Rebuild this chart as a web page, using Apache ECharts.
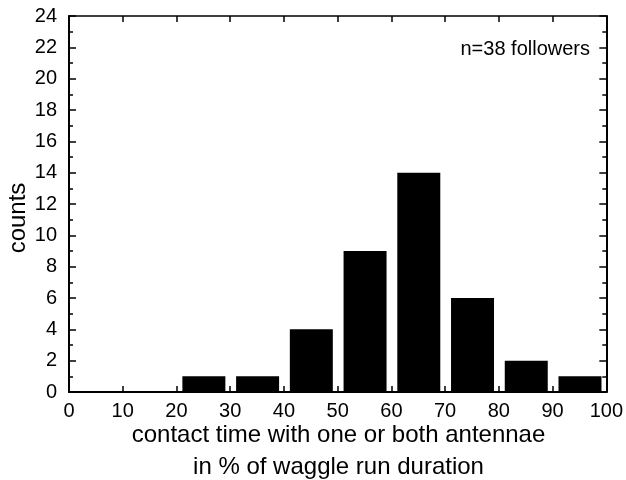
<!DOCTYPE html>
<html>
<head>
<meta charset="utf-8">
<script src="https://cdn.jsdelivr.net/npm/echarts@6/dist/echarts.min.js"></script>
<style>
  html, body { margin: 0; padding: 0; background: #fff; }
  #chart { width: 626px; height: 480px; }
</style>
</head>
<body>
<div id="chart"></div>
<script>
// Histogram bins (percent of waggle run duration) and follower counts
const binStarts = [20, 30, 40, 50, 60, 70, 80, 90];
const binWidth = 10;
const counts = [1, 1, 4, 9, 14, 6, 2, 1];
const xTicks = [0, 10, 20, 30, 40, 50, 60, 70, 80, 90, 100];
const yTicks = [0, 2, 4, 6, 8, 10, 12, 14, 16, 18, 20, 22, 24];
const xTitle = ['contact time with one or both antennae', 'in % of waggle run duration'];
const yTitle = 'counts';
const note = 'n=38 followers';

const FONT = '"Liberation Sans", Arial, Helvetica, sans-serif';
const barData = binStarts.map((s, i) => [s, s + binWidth, counts[i]]);

const chart = echarts.init(document.getElementById('chart'), null, { renderer: 'canvas' });

const baseX = {
  type: 'value',
  min: xTicks[0],
  max: xTicks[xTicks.length - 1],
  interval: 10,
  splitLine: { show: false },
  axisLine: { show: true, onZero: false, lineStyle: { color: '#000', width: 2 } },
  axisTick: { show: true, inside: true, length: 6, lineStyle: { color: '#000', width: 1.5 } }
};
const baseY = {
  type: 'value',
  min: yTicks[0],
  max: yTicks[yTicks.length - 1],
  interval: 2,
  splitLine: { show: false },
  axisLine: { show: true, onZero: false, lineStyle: { color: '#000', width: 2 } },
  axisTick: { show: true, inside: true, length: 7, lineStyle: { color: '#000', width: 1.5 } },
  minorTick: { show: true, splitNumber: 2, length: 4, lineStyle: { color: '#000', width: 1.5 } },
  minorSplitLine: { show: false }
};

chart.setOption({
  animation: false,
  backgroundColor: '#fff',
  grid: { left: 69, right: 18, top: 16, bottom: 88, containLabel: false },
  xAxis: [
    Object.assign({}, baseX, {
      position: 'bottom',
      axisLabel: { show: true, color: '#000', fontSize: 20, fontFamily: FONT, margin: 9 }
    }),
    Object.assign({}, baseX, {
      position: 'top',
      axisLine: { show: true, onZero: false, lineStyle: { color: '#000', width: 1.5 } },
      axisLabel: { show: false }
    })
  ],
  yAxis: [
    Object.assign({}, baseY, {
      position: 'left',
      axisLabel: { show: true, color: '#000', fontSize: 20, fontFamily: FONT, margin: 12, padding: [5, 0, 0, 0] }
    }),
    Object.assign({}, baseY, { position: 'right', axisLabel: { show: false } })
  ],
  series: [{
    type: 'custom',
    xAxisIndex: 0,
    yAxisIndex: 0,
    data: barData,
    encode: { x: [0, 1], y: 2 },
    renderItem: function (params, api) {
      const lo = api.value(0), hi = api.value(1), v = api.value(2);
      const p0 = api.coord([lo + 1.1, v]);
      const p1 = api.coord([hi - 0.9, 0]);
      return {
        type: 'rect',
        shape: { x: p0[0], y: p0[1], width: p1[0] - p0[0], height: p1[1] - p0[1] },
        style: { fill: '#000' }
      };
    }
  }],
  graphic: [
    {
      type: 'text', x: 18, y: 218, rotation: Math.PI / 2,
      style: { text: yTitle, fill: '#000', font: '24px ' + FONT, textAlign: 'center', textVerticalAlign: 'middle' }
    },
    {
      type: 'text', x: 338.5, y: 435,
      style: { text: xTitle[0], fill: '#000', font: '24px ' + FONT, textAlign: 'center', textVerticalAlign: 'middle' }
    },
    {
      type: 'text', x: 338.5, y: 467,
      style: { text: xTitle[1], fill: '#000', font: '24px ' + FONT, textAlign: 'center', textVerticalAlign: 'middle' }
    },
    {
      type: 'text', x: 590, y: 49,
      style: { text: note, fill: '#000', font: '20px ' + FONT, textAlign: 'right', textVerticalAlign: 'middle' }
    }
  ]
});
</script>
</body>
</html>
